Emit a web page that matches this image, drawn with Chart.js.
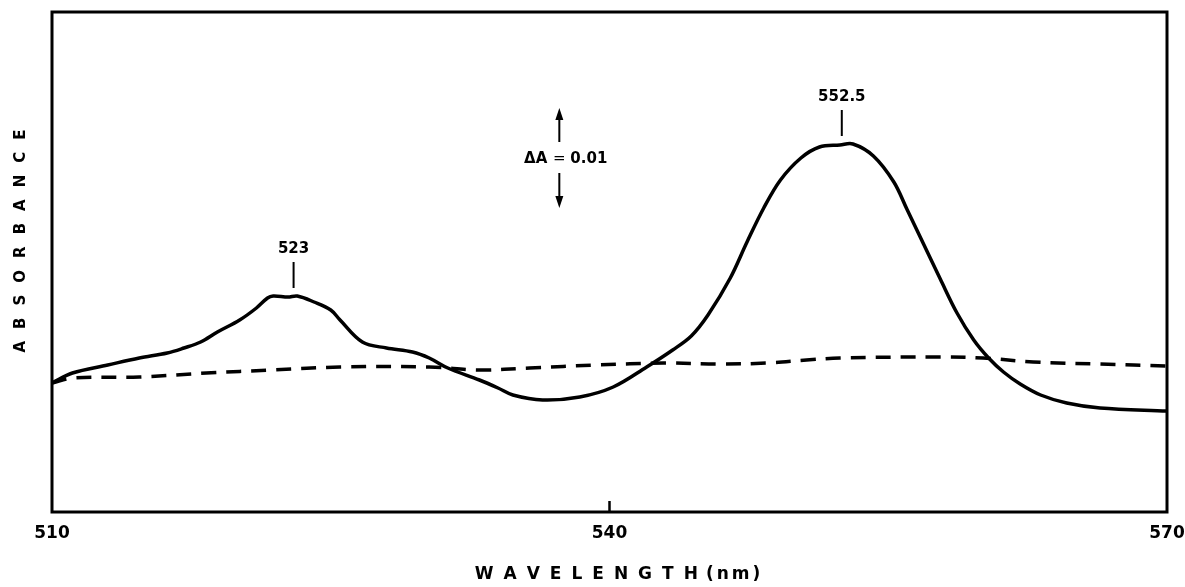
<!DOCTYPE html>
<html><head><meta charset="utf-8">
<script src="https://cdn.jsdelivr.net/npm/chart.js@4.4.1/dist/chart.umd.min.js"></script>
<style>html,body{margin:0;padding:0;background:#fff;overflow:hidden}</style>
</head><body>
<canvas id="c" width="1185" height="587"></canvas>
<script>
// ---- data (wavelength in nm, absorbance in arbitrary offset units) ----
const solidWavelength = [510.0,511.1,513.0,514.7,516.2,517.1,518.0,518.9,520.1,521.0,521.6,521.9,522.7,523.2,524.1,525.0,525.5,526.7,528.0,529.4,530.3,531.3,533.0,534.0,534.8,536.4,538.4,540.2,542.0,543.4,544.4,545.3,546.5,547.4,548.3,549.2,550.3,551.3,552.4,553.1,554.2,555.3,556.0,556.9,557.8,558.7,559.6,560.4,561.2,562.1,563.2,564.6,566.4,570.0];
const solidAbsorbance = [0.0129,0.0139,0.0147,0.0154,0.0159,0.0164,0.0170,0.0180,0.0192,0.0204,0.0214,0.0216,0.0215,0.0216,0.0210,0.0202,0.0192,0.0170,0.0164,0.0160,0.0154,0.0144,0.0132,0.0124,0.0117,0.0112,0.0115,0.0125,0.0145,0.0162,0.0176,0.0197,0.0234,0.0270,0.0304,0.0332,0.0354,0.0365,0.0367,0.0368,0.0356,0.0330,0.0303,0.0268,0.0233,0.0199,0.0172,0.0154,0.0140,0.0128,0.0117,0.0109,0.0104,0.0101];
const dashedWavelength = [510.0,511.1,514.7,518.3,521.9,525.5,530.3,533.0,535.7,539.3,542.9,546.0,548.5,550.6,552.4,557.8,560.1,562.8,566.4,570.0];
const dashedAbsorbance = [0.0129,0.0134,0.0135,0.0139,0.0142,0.0145,0.0145,0.0142,0.0144,0.0147,0.0149,0.0148,0.0149,0.0152,0.0154,0.0155,0.0154,0.0150,0.0148,0.0146];
const xTickValues = [510, 540, 570];
const innerTickValues = [540];
const peakWavelengths = [523, 552.5];
const peakLabels = ['523', '552.5'];
const scaleBarWavelength = 537.3;
const scaleBarCenter = 0.0354;
const scaleBarDelta = 0.01;
const scaleBarLabel = ['\u0394A', '=', '0.01'];
const xTitleParts = ['WAVELENGTH', '(nm)'];
const yTitle = 'ABSORBANCE';

const FONT = '"DejaVu Sans", "Liberation Sans", Arial, sans-serif';

function drawSpaced(ctx, text, x, y, spacing) {
  let cx = x;
  for (const ch of text) {
    ctx.fillText(ch, cx, y);
    cx += ctx.measureText(ch).width + spacing;
  }
  return cx - spacing - x;
}
function spacedWidth(ctx, text, spacing) {
  let w = 0;
  for (const ch of text) w += ctx.measureText(ch).width + spacing;
  return w - spacing;
}

const decor = {
  id: 'decor',
  afterDraw(chart) {
    const ctx = chart.ctx, a = chart.chartArea;
    const xs = chart.scales.x, ys = chart.scales.y;
    ctx.save();
    ctx.strokeStyle = '#000';
    ctx.fillStyle = '#000';
    // frame
    ctx.lineWidth = 3;
    ctx.strokeRect(a.left, a.top, a.right - a.left, a.bottom - a.top);
    // inward tick
    ctx.lineWidth = 2.5;
    innerTickValues.forEach(v => {
      const px = xs.getPixelForValue(v);
      ctx.beginPath(); ctx.moveTo(px, a.bottom); ctx.lineTo(px, a.bottom - 11); ctx.stroke();
    });
    // peak markers
    ctx.lineWidth = 2;
    ctx.textAlign = 'center';
    ctx.textBaseline = 'alphabetic';
    ctx.font = 'bold 15px ' + FONT;
    peakWavelengths.forEach((w, i) => {
      let m = -Infinity;
      solidWavelength.forEach((sw, j) => { if (Math.abs(sw - w) < 1.2) m = Math.max(m, solidAbsorbance[j]); });
      const px = xs.getPixelForValue(w);
      const py = ys.getPixelForValue(m);
      const yb = py - 8, yt = yb - 26;
      ctx.beginPath(); ctx.moveTo(px, yb); ctx.lineTo(px, yt); ctx.stroke();
      ctx.fillText(peakLabels[i], px, yt - 9);
    });
    // scale bar
    const bx = xs.getPixelForValue(scaleBarWavelength);
    const yc = ys.getPixelForValue(scaleBarCenter);
    const yTop = ys.getPixelForValue(scaleBarCenter + scaleBarDelta / 2);
    const yBot = ys.getPixelForValue(scaleBarCenter - scaleBarDelta / 2);
    ctx.lineWidth = 2;
    ctx.beginPath(); ctx.moveTo(bx, yTop + 10); ctx.lineTo(bx, yc - 16); ctx.stroke();
    ctx.beginPath(); ctx.moveTo(bx, yc + 15); ctx.lineTo(bx, yBot - 10); ctx.stroke();
    ctx.beginPath(); ctx.moveTo(bx, yTop); ctx.lineTo(bx - 4, yTop + 12); ctx.lineTo(bx + 4, yTop + 12); ctx.closePath(); ctx.fill();
    ctx.beginPath(); ctx.moveTo(bx, yBot); ctx.lineTo(bx - 4, yBot - 12); ctx.lineTo(bx + 4, yBot - 12); ctx.closePath(); ctx.fill();
    ctx.textBaseline = 'middle';
    ctx.font = 'bold 15px ' + FONT;
    ctx.textAlign = 'right'; ctx.fillText(scaleBarLabel[0], bx - 12, yc + 1);
    ctx.font = '15px ' + FONT;
    ctx.textAlign = 'center'; ctx.fillText(scaleBarLabel[1], bx, yc + 1);
    ctx.font = 'bold 15px ' + FONT;
    ctx.textAlign = 'left'; ctx.fillText(scaleBarLabel[2], bx + 11, yc + 1);
    // x title
    ctx.textAlign = 'left';
    ctx.textBaseline = 'middle';
    ctx.font = 'bold 17px ' + FONT;
    const s1 = 10, s2 = 3, gap = 8;
    const w1 = spacedWidth(ctx, xTitleParts[0], s1);
    const w2 = spacedWidth(ctx, xTitleParts[1], s2);
    const cxT = (a.left + a.right) / 2 + 8;
    let sx = cxT - (w1 + gap + w2) / 2;
    drawSpaced(ctx, xTitleParts[0], sx, 575, s1);
    drawSpaced(ctx, xTitleParts[1], sx + w1 + gap, 575, s2);
    // y title
    ctx.font = 'bold 15px ' + FONT;
    const sy = 12;
    const wy = spacedWidth(ctx, yTitle, sy);
    ctx.translate(20, 241);
    ctx.rotate(-Math.PI / 2);
    drawSpaced(ctx, yTitle, -wy / 2, 1, sy);
    ctx.restore();
  }
};

new Chart(document.getElementById('c'), {
  type: 'line',
  data: {
    datasets: [
      {
        data: solidWavelength.map((x, i) => ({ x, y: solidAbsorbance[i] })),
        borderColor: '#000', borderWidth: 3.5, pointRadius: 0, fill: false,
        tension: 0.35
      },
      {
        data: dashedWavelength.map((x, i) => ({ x, y: dashedAbsorbance[i] })),
        borderColor: '#000', borderWidth: 3.5, borderDash: [15, 10], pointRadius: 0, fill: false,
        tension: 0.35
      }
    ]
  },
  options: {
    responsive: false, animation: false, devicePixelRatio: 1,
    layout: { padding: { left: 52, right: 18, top: 12, bottom: 0 } },
    plugins: { legend: { display: false }, tooltip: { enabled: false } },
    scales: {
      x: {
        type: 'linear', min: 510, max: 570,
        border: { display: false },
        grid: { display: false, drawTicks: false },
        afterBuildTicks: s => { s.ticks = xTickValues.map(v => ({ value: v })); },
        ticks: { padding: 11, color: '#000', maxRotation: 0, autoSkip: false,
          font: { family: FONT, weight: 'bold', size: 17 } },
        afterFit: s => { s.height = 75; s.paddingLeft = 0; s.paddingRight = 0; }
      },
      y: { display: false, min: 0, max: 0.05 }
    }
  },
  plugins: [decor]
});
</script>
</body></html>
